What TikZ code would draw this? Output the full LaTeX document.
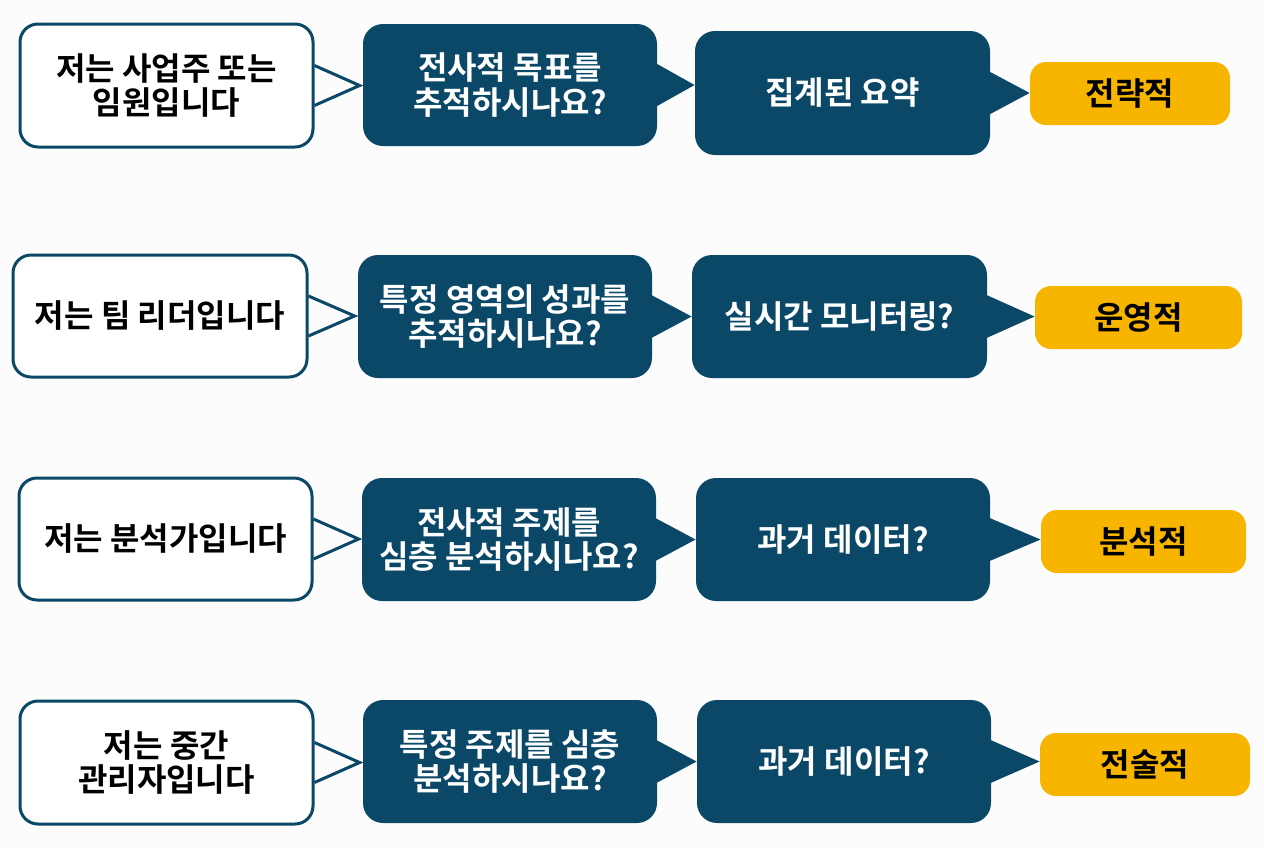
\documentclass[tikz,border=0pt]{standalone}
\usepackage{fontspec}
\setmainfont{Noto Sans CJK KR}[BoldFont={Noto Sans CJK KR Bold}]
\usetikzlibrary{calc}
\definecolor{navy}{RGB}{11,72,104}
\definecolor{gold}{RGB}{247,181,0}
\definecolor{bg}{RGB}{252,252,252}
\tikzset{
  sz/.style 2 args={minimum width=#1*0.5pt, minimum height=#2*0.5pt},
  txt/.style={font=\fontsize{16}{17.2}\selectfont\bfseries, align=center, inner sep=0pt},
  wbox/.style={txt, draw=navy, line width=1.5pt, fill=white, rounded corners=9pt, text=black},
  dbox/.style={txt, fill=navy, rounded corners=10pt, text=white},
  ybox/.style={txt, fill=gold, rounded corners=8pt, text=black},
  wtail/.style={draw=navy, line width=1.5pt, line join=miter},
  dtail/.style={fill=navy},
}
\begin{document}
\begin{tikzpicture}[x=0.5pt, y=-0.5pt]
\fill[bg] (0,0) rectangle (1264,848);
\useasboundingbox (0,0) rectangle (1264,848);

% Row 1
\node[wbox, sz={293}{123}] (w1) at (166.5,85.5) {저는 사업주 또는\\임원입니다};
\node[dbox, sz={294}{122}] (d1) at (510,85) {전사적 목표를\\추적하시나요?};
\node[dbox, sz={295}{124}] (e1) at (842.5,93) {집계된 요약};
\node[ybox, sz={200}{63}] (y1) at (1130,93.5) {전략적};

% Row 2
\node[wbox, sz={294}{122}] (w2) at (160,316) {저는 팀 리더입니다};
\node[dbox, sz={294}{123}] (d2) at (505,316.5) {특정 영역의 성과를\\추적하시나요?};
\node[dbox, sz={295}{123}] (e2) at (839.5,316.5) {실시간 모니터링?};
\node[ybox, sz={207}{63}] (y2) at (1138.5,317.5) {운영적};

% Row 3
\node[wbox, sz={293}{122}] (w3) at (165.5,539) {저는 분석가입니다};
\node[dbox, sz={294}{123}] (d3) at (509,539.5) {전사적 주제를\\심층 분석하시나요?};
\node[dbox, sz={294}{123}] (e3) at (843,539.5) {과거 데이터?};
\node[ybox, sz={205}{63}] (y3) at (1143.5,541.5) {분석적};

% Row 4
\node[wbox, sz={293}{123}] (w4) at (166.5,762.5) {저는 중간\\관리자입니다};
\node[dbox, sz={294}{123}] (d4) at (510,761.5) {특정 주제를 심층\\분석하시나요?};
\node[dbox, sz={294}{123}] (e4) at (844,761.5) {과거 데이터?};
\node[ybox, sz={210}{63}] (y4) at (1145,764.5) {전술적};

% Tails
\foreach \r in {1,2,3,4}{
  \draw[wtail] ($(w\r.east)+(0,-20)$) -- ($(w\r.east -| d\r.west)+(-3,0)$) -- ($(w\r.east)+(0,20)$);
  \fill[navy] ($(d\r.east)+(-2,-22)$) -- (d\r.east -| e\r.west) -- ($(d\r.east)+(-2,22)$) -- cycle;
  \fill[navy] ($(e\r.east)+(-2,-22)$) -- (e\r.east -| y\r.west) -- ($(e\r.east)+(-2,22)$) -- cycle;
}
\end{tikzpicture}
\end{document}
